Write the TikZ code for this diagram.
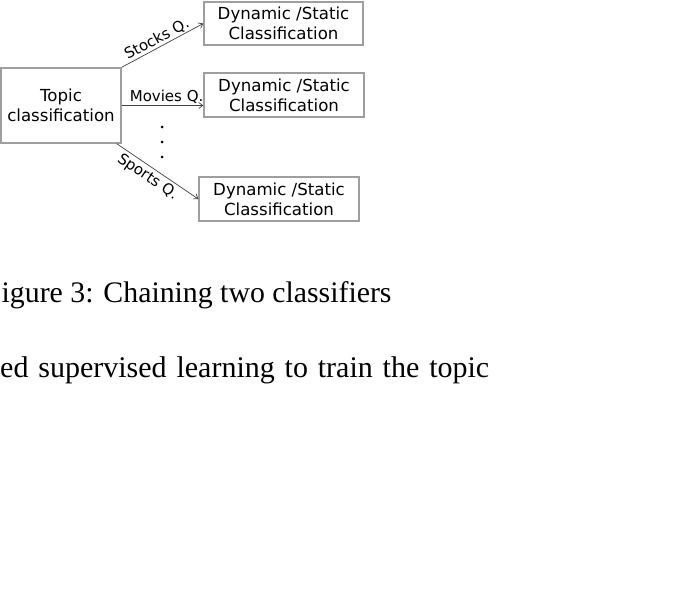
\documentclass[tikz,border=0pt]{standalone}
\usepackage{fontspec}
\setmainfont{Liberation Serif}
\newfontfamily\diagfont{DejaVu Sans}
\usepackage{tikz}
\usetikzlibrary{calc}
\usetikzlibrary{arrows.meta}

\tikzset{
  clsbox/.style={draw=black!38, line width=1.4pt, fill=white, align=center,
    inner sep=0pt, font=\diagfont\fontsize{16.6}{20}\selectfont},
  flow/.style={-{Straight Barb[length=4pt,width=6pt]}, line width=0.7pt, draw=black!75},
  qlabel/.style={font=\diagfont\fontsize{15}{18}\selectfont, sloped, inner sep=1.5pt}
}

\begin{document}
\begin{tikzpicture}[x=1pt,y=-1pt]
\useasboundingbox (0,0) rectangle (684,597);
% classifiers
\node[clsbox, minimum width=120pt, minimum height=75pt] (topic) at (61,105.5) {Topic\\classification};
\node[clsbox, minimum width=159pt, minimum height=43pt] (dyn1) at (283.5,23.5) {Dynamic /Static\\Classification};
\node[clsbox, minimum width=160pt, minimum height=44pt] (dyn2) at (284,95) {Dynamic /Static\\Classification};
\node[clsbox, minimum width=160pt, minimum height=44pt] (dyn3) at (279,199) {Dynamic /Static\\Classification};
\coordinate (S3) at ($(topic.south east)+(-5,0)$);
\coordinate (M2) at (topic.east -| dyn2.west);

   \draw[flow] (topic.north east) -- (dyn1.west) node[qlabel, above, pos=0.48] {Stocks Q.};
   \draw[flow] (topic.east) -- (M2) node[qlabel, above, pos=0.55] {Movies Q.};
   \draw[flow] (S3) -- (dyn3.west) node[qlabel, below, pos=0.45, inner sep=3pt] {Sports Q.};

   % vertical dots
   \fill[black] (162,127) circle (1.5);
   \fill[black] (162,142) circle (1.5);
   \fill[black] (162,157) circle (1.5);

   \node[anchor=base west, inner sep=0pt, font=\fontsize{29.8}{36}\selectfont] (caption) at (1.5,302) {igure 3: Chaining two classifiers};
   \node[anchor=base west, inner sep=0pt, font=\fontsize{30}{36}\selectfont] (body) at (0,377) {\makebox[489pt][s]{ed supervised learning to train the topic}};
   \end{tikzpicture}
\end{document}
